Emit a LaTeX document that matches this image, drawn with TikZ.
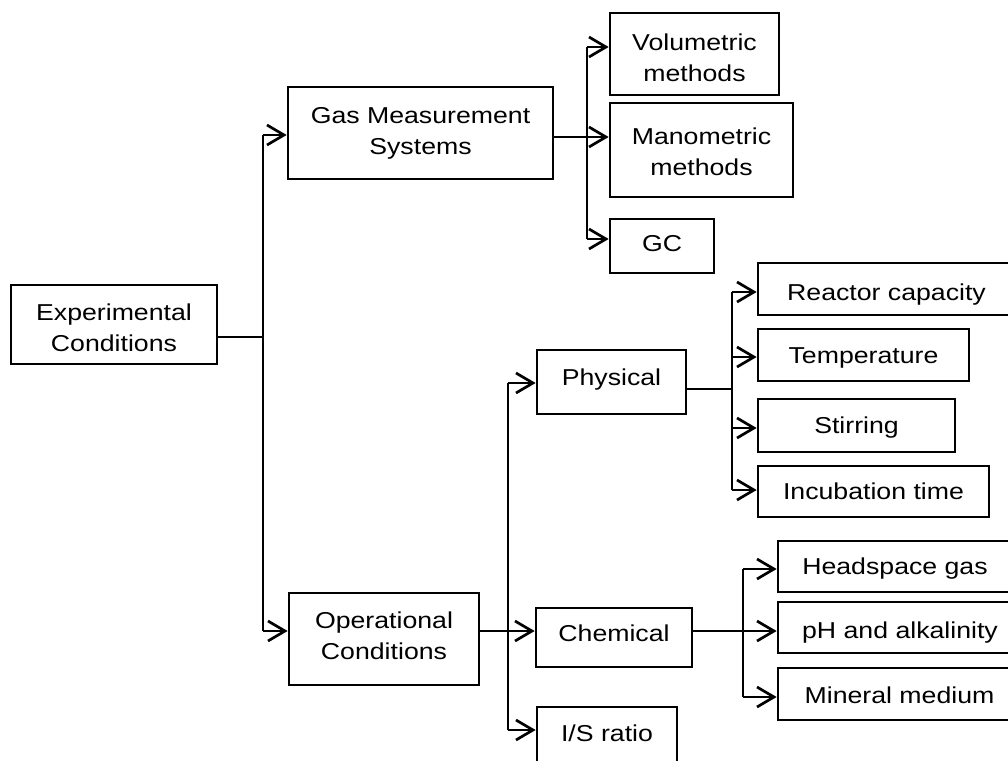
\documentclass[tikz,border=0pt]{standalone}
\usepackage{fontspec}
\setmainfont{Liberation Sans}[FakeStretch=1.16]
\usetikzlibrary{arrows.meta}
\newcommand\topstrut[1]{\rule{0pt}{#1pt}}
\newcommand\botstrut[1]{\rule[-#1pt]{0pt}{0pt}}
\begin{document}
\begin{tikzpicture}[x=1pt,y=-1pt,
  box/.style={draw=black,line width=2.7pt,inner sep=0pt,align=center,
    font=\fontsize{23}{31}\selectfont},
  off/.style 2 args={text height=#1pt,text depth=#2pt},
  link/.style={line width=2.7pt,line join=miter},
  arr/.style={link,-{Straight Barb[length=17pt,width=20pt,line width=2.7pt]}}]
\useasboundingbox (0,0) rectangle (1008,760);
\clip (0,0) rectangle (1008,760);
% nodes
\node[box,minimum width=206pt,minimum height=79pt] (ec) at (114,324.5) {\topstrut{23.8}Experimental\\Conditions};
\node[box,minimum width=265pt,minimum height=92pt] (gms) at (420.5,133) {Gas Measurement\\Systems};
\node[box,minimum width=169pt,minimum height=82pt] (vol) at (694.5,54) {\topstrut{23.8}Volumetric\\methods};
\node[box,minimum width=183pt,minimum height=94pt] (man) at (701.5,150) {\topstrut{20.8}Manometric\\methods};
\node[box,off={17}{6.5},minimum width=104pt,minimum height=54pt] (gc) at (662,246) {GC};
\node[box,minimum width=190pt,minimum height=92pt] (oc) at (384,639) {Operational\\Conditions\botstrut{6}};
\node[box,off={15}{8.5},minimum width=149pt,minimum height=64pt] (phys) at (611.5,382) {Physical};
\node[box,off={23}{0.5},minimum width=257pt,minimum height=52pt] (rc) at (886.5,289) {Reactor capacity};
\node[box,off={20}{3.5},minimum width=211pt,minimum height=52pt] (temp) at (863.5,355) {Temperature};
\node[box,off={20}{3.5},minimum width=197pt,minimum height=53pt] (stir) at (856.5,425.5) {Stirring};
\node[box,off={20}{3.5},minimum width=231pt,minimum height=51pt] (inc) at (873.5,491.5) {Incubation time};
\node[box,off={15.5}{8},minimum width=156pt,minimum height=59pt] (chem) at (614,637.5) {Chemical};
\node[box,off={20}{3.5},minimum width=234pt,minimum height=51pt] (head) at (895,566.5) {Headspace gas};
\node[box,off={23}{0.5},minimum width=244pt,minimum height=51pt] (ph) at (900,627.5) {pH and alkalinity};
\node[box,off={21}{2.5},minimum width=243pt,minimum height=52pt] (min) at (899.5,694) {Mineral medium};
\node[box,off={18}{5.5},minimum width=140pt,minimum height=56pt] (is) at (607,735) {I/S ratio};
% trunk coordinates
\coordinate (t1a) at (263,135);
\coordinate (t1b) at (263,337);
\coordinate (t1c) at (263,631);
\coordinate (t2a) at (587,47);
\coordinate (t2b) at (587,137);
\coordinate (t2c) at (587,239);
\coordinate (t3a) at (508,383);
\coordinate (t3b) at (508,631);
\coordinate (t3c) at (508,730);
\coordinate (t4a) at (732,292);
\coordinate (t4b) at (732,357);
\coordinate (t4c) at (732,428);
\coordinate (t4d) at (732,490);
\coordinate (t4m) at (732,389);
\coordinate (t5a) at (743,569);
\coordinate (t5b) at (743,631);
\coordinate (t5c) at (743,697);
% level 1
\draw[link] (ec.east |- t1b) -- (t1b);
\draw[link] (t1a) -- (t1c);
\draw[arr] (t1a) -- (gms.west |- t1a);
\draw[arr] (t1c) -- (oc.west |- t1c);
% gas measurement
\draw[link] (gms.east |- t2b) -- (t2b);
\draw[link] (t2a) -- (t2c);
\draw[arr] (t2a) -- (vol.west |- t2a);
\draw[arr] (t2b) -- (man.west |- t2b);
\draw[arr] (t2c) -- (gc.west |- t2c);
% operational
\draw[arr] (oc.east |- t3b) -- (chem.west |- t3b);
\draw[link] (t3a) -- (t3c);
\draw[arr] (t3a) -- (phys.west |- t3a);
\draw[arr] (t3c) -- (is.west |- t3c);
% physical
\draw[link] (phys.east |- t4m) -- (t4m);
\draw[link] (t4a) -- (t4d);
\draw[arr] (t4a) -- (rc.west |- t4a);
\draw[arr] (t4b) -- (temp.west |- t4b);
\draw[arr] (t4c) -- (stir.west |- t4c);
\draw[arr] (t4d) -- (inc.west |- t4d);
% chemical
\draw[arr] (chem.east |- t5b) -- (ph.west |- t5b);
\draw[link] (t5a) -- (t5c);
\draw[arr] (t5a) -- (head.west |- t5a);
\draw[arr] (t5c) -- (min.west |- t5c);
\end{tikzpicture}
\end{document}
